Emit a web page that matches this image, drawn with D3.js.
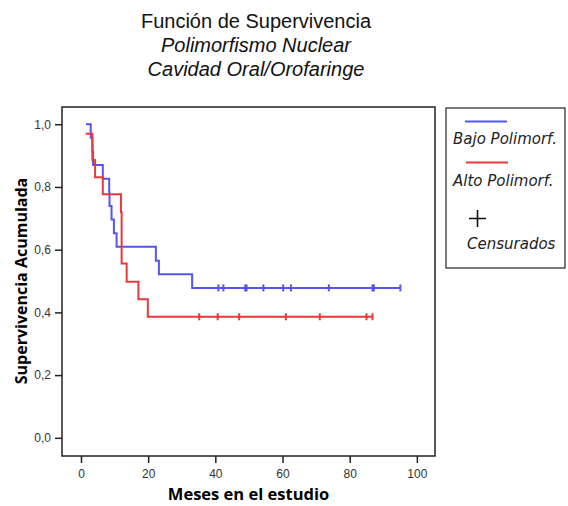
<!DOCTYPE html>
<html>
<head>
<meta charset="utf-8">
<script src="https://cdn.jsdelivr.net/npm/d3@7"></script>
<style>
  body { margin: 0; background: #fff; }
  text { font-family: "Open Sans", sans-serif; }
</style>
</head>
<body>
<script>
// Data (Kaplan-Meier steps)
const bajoTimes = [1.5, 2.9, 3.4, 3.6, 6.5, 8.4, 8.5, 9.1, 9.8, 10.6, 22.3, 23.2, 33.1];
const bajoSurv = [1.0, 0.957, 0.913, 0.870, 0.826, 0.783, 0.739, 0.696, 0.652, 0.609, 0.565, 0.522, 0.478];
const bajoCensored = [40.9, 42.4, 48.9, 49.3, 54.3, 60.2, 62.5, 73.8, 86.8, 87.2, 95.1];

const altoTimes = [1.4, 3.4, 4.2, 6.5, 11.9, 12.1, 13.6, 17.1, 19.9];
const altoSurv = [0.97, 0.886, 0.831, 0.777, 0.72, 0.556, 0.498, 0.442, 0.386];
const altoCensored = [35.2, 40.7, 47.1, 61.0, 71.1, 85.0, 86.8];

const xTicks = [0, 20, 40, 60, 80, 100];
const yTicks = [0, 0.2, 0.4, 0.6, 0.8, 1.0];
const titleLines = ['Función de Supervivencia', 'Polimorfismo Nuclear', 'Cavidad Oral/Orofaringe'];
const legendLabels = ['Bajo Polimorf.', 'Alto Polimorf.', 'Censurados'];

// Constants
const WIDTH = 568;
const HEIGHT = 506;
const PLOT = {left: 62, right: 435, top: 107, bottom: 456};
const BLUE = '#5555f5';
const RED = '#e8383c';

const svg = d3.select('body')
  .append('svg')
  .attr('width', WIDTH)
  .attr('height', HEIGHT);

const x = d3.scaleLinear()
  .domain([-5.65, 105.4])
  .range([PLOT.left, PLOT.right]);

const y = d3.scaleLinear()
  .domain([-0.058, 1.055])
  .range([PLOT.bottom, PLOT.top]);

// Title
svg.selectAll('.title')
  .data(titleLines)
  .enter().append('text')
  .attr('class', 'title')
  .attr('x', 256)
  .attr('y', function(d, i) { return 28 + i * 24; })
  .attr('text-anchor', 'middle')
  .style('font-family', '"Liberation Sans", Arial, sans-serif')
  .style('font-size', '20px')
  .style('font-style', function(d, i) { return i === 0 ? 'normal' : 'italic'; })
  .style('fill', '#111')
  .text(function(d) { return d; });

// Axes
const fmt = function(d) { return d3.format('.1f')(d).replace('.', ','); };

const yAxis = d3.axisLeft(y).tickValues(yTicks).tickFormat(fmt).tickSize(7).tickSizeOuter(0).tickPadding(4);
const gy = svg.append('g')
  .attr('transform', 'translate(' + PLOT.left + ',0)')
  .call(yAxis);

const xAxis = d3.axisBottom(x).tickValues(xTicks).tickSize(7).tickSizeOuter(0).tickPadding(6);
const gx = svg.append('g')
  .attr('transform', 'translate(0,' + PLOT.bottom + ')')
  .call(xAxis);

[gx, gy].forEach(function(g) {
  g.select('.domain').remove();
  g.selectAll('line').attr('stroke', '#222').attr('stroke-width', 1.5);
  g.selectAll('text')
    .style('font-family', '"Liberation Sans", Arial, sans-serif')
    .style('font-size', '12px')
    .style('fill', '#333');
});

// Frame
svg.append('rect')
  .attr('x', PLOT.left)
  .attr('y', PLOT.top)
  .attr('width', PLOT.right - PLOT.left)
  .attr('height', PLOT.bottom - PLOT.top)
  .attr('fill', 'none')
  .attr('stroke', '#222')
  .attr('stroke-width', 1.5);

// Axis titles
svg.append('text')
  .attr('x', (PLOT.left + PLOT.right) / 2)
  .attr('y', 500)
  .attr('text-anchor', 'middle')
  .style('font-size', '16.5px')
  .style('font-weight', 'bold')
  .text('Meses en el estudio');

svg.append('text')
  .attr('transform', 'translate(27,' + 281 + ') rotate(-90)')
  .attr('text-anchor', 'middle')
  .style('font-size', '16px')
  .style('font-weight', 'bold')
  .text('Supervivencia Acumulada');

// Survival curves
const line = d3.line()
  .x(function(d) { return x(d[0]); })
  .y(function(d) { return y(d[1]); })
  .curve(d3.curveStepAfter);

function drawCurve(times, surv, censored, color) {
  const pts = times.map(function(t, i) { return [t, surv[i]]; });
  const last = surv[surv.length - 1];
  pts.push([d3.max(censored), last]);

  svg.append('path')
    .datum(pts)
    .attr('d', line)
    .attr('fill', 'none')
    .attr('stroke', color)
    .attr('stroke-width', 2);

  svg.selectAll(null)
    .data(censored)
    .enter().append('line')
    .attr('x1', function(d) { return x(d); })
    .attr('x2', function(d) { return x(d); })
    .attr('y1', y(last) - 3.5)
    .attr('y2', y(last) + 3.5)
    .attr('stroke', color)
    .attr('stroke-width', 2);
}

drawCurve(bajoTimes, bajoSurv, bajoCensored, BLUE);
drawCurve(altoTimes, altoSurv, altoCensored, RED);

// Legend
const legend = svg.append('g')
  .attr('class', 'legend');

legend.append('rect')
  .attr('x', 446)
  .attr('y', 108)
  .attr('width', 119)
  .attr('height', 160)
  .attr('fill', 'none')
  .attr('stroke', '#222')
  .attr('stroke-width', 1.2);

legend.append('line')
  .attr('x1', 465).attr('x2', 507)
  .attr('y1', 121.5).attr('y2', 121.5)
  .attr('stroke', BLUE).attr('stroke-width', 2);

legend.append('line')
  .attr('x1', 466).attr('x2', 508)
  .attr('y1', 162.5).attr('y2', 162.5)
  .attr('stroke', RED).attr('stroke-width', 2);

legend.append('path')
  .attr('d', 'M469,218.5H486M477.5,210V227')
  .attr('stroke', '#111')
  .attr('stroke-width', 1.6);

legend.selectAll('.legend-text')
  .data(legendLabels)
  .enter().append('text')
  .attr('class', 'legend-text')
  .attr('x', function(d, i) { return i === 2 ? 467 : 453; })
  .attr('y', function(d, i) { return [144, 186, 249][i]; })
  .style('font-family', '"DejaVu Sans", sans-serif')
  .style('font-size', '15px')
  .style('font-style', 'italic')
  .style('fill', '#222')
  .text(function(d) { return d; });
</script>
</body>
</html>
